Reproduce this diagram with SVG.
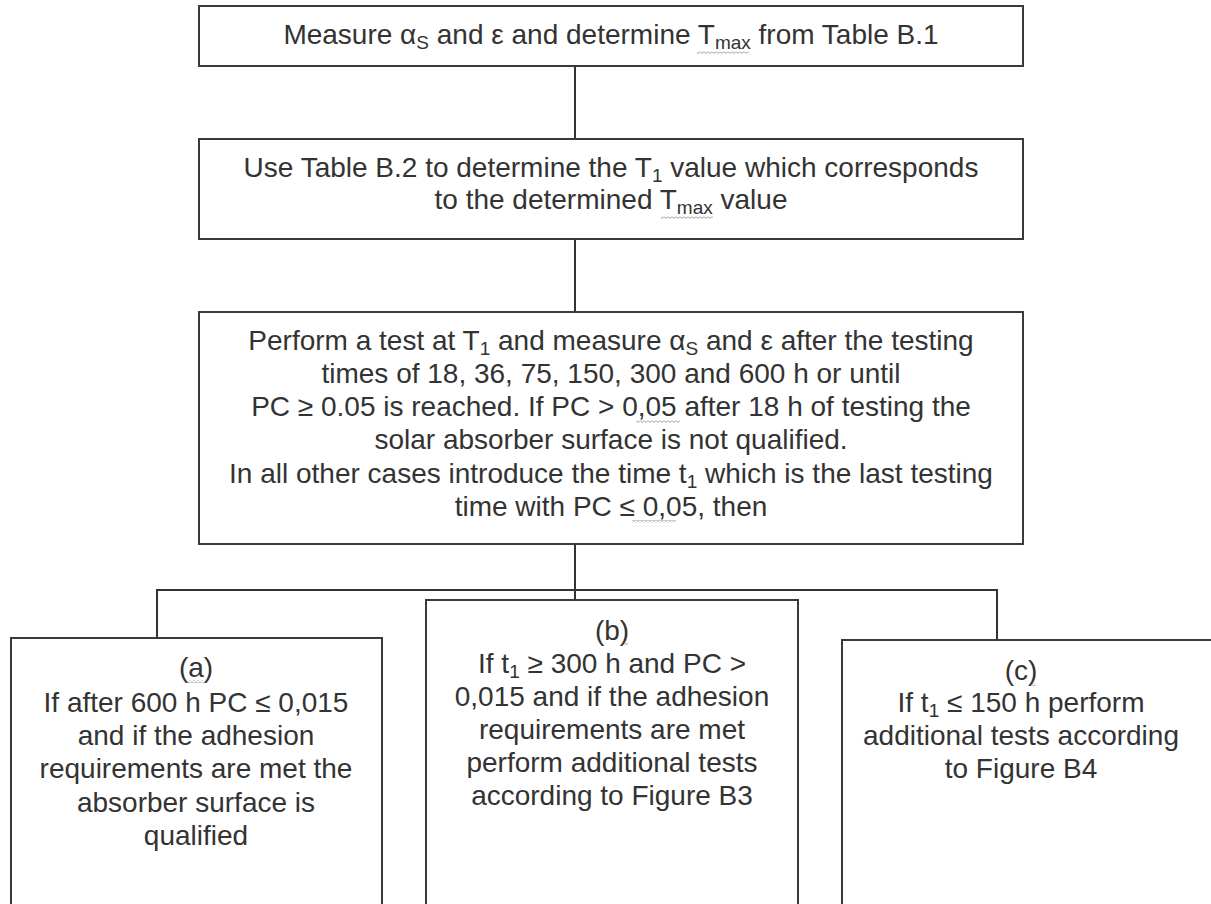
<svg xmlns="http://www.w3.org/2000/svg" width="1211" height="904" viewBox="0 0 1211 904">
<style>
.box{fill:#fff;stroke:#3a3a3a;stroke-width:2}
.conn{fill:none;stroke:#333;stroke-width:2}
text{font-family:"Liberation Sans",Arial,sans-serif;font-size:28px;fill:#333;text-anchor:middle}
.sq{fill:url(#wave)}
</style>
<defs>
<pattern id="wave" width="4" height="3" patternUnits="userSpaceOnUse">
<polyline points="0,0.5 2,2.5 4,0.5" fill="none" stroke="#8c8c8c" stroke-width="0.9"/>
</pattern>
</defs>
<rect width="1211" height="904" fill="#fff"/>
<g id="connectors">
<line class="conn" x1="575" y1="66" x2="575" y2="139"/>
<line class="conn" x1="575" y1="239" x2="575" y2="312"/>
<line class="conn" x1="575" y1="544" x2="575" y2="600"/>
<polyline class="conn" points="157,638 157,590 997,590 997,640"/>
</g>
<g id="n1">
<rect class="box" x="199" y="6" width="824" height="60"/>
<text x="611" y="44">Measure α<tspan font-size="19" dy="5">S</tspan><tspan dy="-5"> and ε and determine T</tspan><tspan font-size="19" dy="5">max</tspan><tspan dy="-5"> from Table B.1</tspan></text>
<rect class="sq" x="697" y="51" width="52" height="3"/>
</g>
<g id="n2">
<rect class="box" x="199" y="139" width="824" height="100"/>
<text x="611" y="177">Use Table B.2 to determine the T<tspan font-size="19" dy="5">1</tspan><tspan dy="-5"> value which corresponds</tspan></text>
<text x="611" y="209">to the determined T<tspan font-size="19" dy="5">max</tspan><tspan dy="-5"> value</tspan></text>
<rect class="sq" x="661" y="216" width="52" height="3"/>
</g>
<g id="n3">
<rect class="box" x="199" y="312" width="824" height="232"/>
<text x="611" y="350">Perform a test at T<tspan font-size="19" dy="5">1</tspan><tspan dy="-5"> and measure α</tspan><tspan font-size="19" dy="5">S</tspan><tspan dy="-5"> and ε after the testing</tspan></text>
<text x="611" y="383">times of 18, 36, 75, 150, 300 and 600 h or until</text>
<text x="611" y="416">PC ≥ 0.05 is reached. If PC &gt; 0,05 after 18 h of testing the</text>
<rect class="sq" x="636" y="420" width="44" height="3"/>
<text x="611" y="449">solar absorber surface is not qualified.</text>
<text x="611" y="483">In all other cases introduce the time t<tspan font-size="19" dy="5">1</tspan><tspan dy="-5"> which is the last testing</tspan></text>
<text x="611" y="516">time with PC ≤ 0,05, then</text>
<rect class="sq" x="632" y="520" width="44" height="3"/>
</g>
<g id="na">
<rect class="box" x="11" y="638" width="371" height="280"/>
<text x="196" y="677">(a)</text>
<rect class="sq" x="188" y="680" width="16" height="3"/>
<text x="196" y="712">If after 600 h PC ≤ 0,015</text>
<text x="196" y="745">and if the adhesion</text>
<text x="196" y="778">requirements are met the</text>
<text x="196" y="812">absorber surface is</text>
<text x="196" y="845">qualified</text>
</g>
<g id="nb">
<rect class="box" x="426" y="600" width="372" height="320"/>
<text x="612" y="640">(b)</text>
<rect class="sq" x="624" y="643" width="4" height="3"/>
<text x="612" y="673">If t<tspan font-size="19" dy="5">1</tspan><tspan dy="-5"> ≥ 300 h and PC &gt;</tspan></text>
<text x="612" y="706">0,015 and if the adhesion</text>
<text x="612" y="739">requirements are met</text>
<text x="612" y="772">perform additional tests</text>
<text x="612" y="805">according to Figure B3</text>
</g>
<g id="nc">
<rect class="box" x="842" y="640" width="372" height="280"/>
<text x="1021" y="680">(c)</text>
<rect class="sq" x="1032" y="683" width="4" height="3"/>
<text x="1021" y="712">If t<tspan font-size="19" dy="5">1</tspan><tspan dy="-5"> ≤ 150 h perform</tspan></text>
<text x="1021" y="745">additional tests according</text>
<text x="1021" y="778">to Figure B4</text>
</g>
</svg>
